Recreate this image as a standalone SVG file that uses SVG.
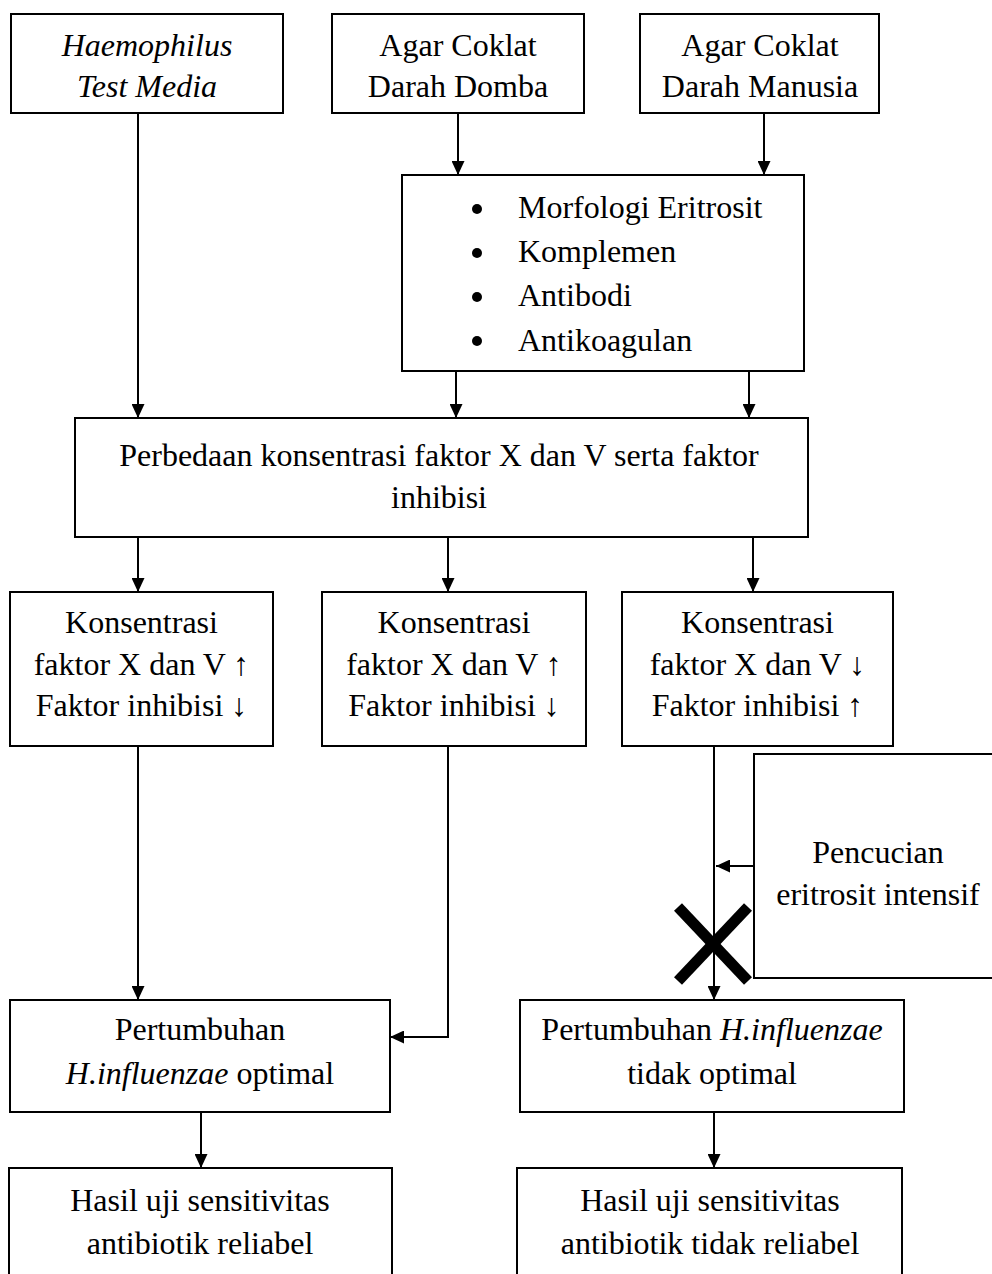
<svg xmlns="http://www.w3.org/2000/svg" width="992" height="1274" viewBox="0 0 992 1274">
<style>
  .box { fill: #ffffff; stroke: #000000; stroke-width: 2; }
  .t { font-family: "Liberation Serif", "Times New Roman", serif; font-size: 32px; fill: #000000; text-anchor: middle; }
  .tl { font-family: "Liberation Serif", "Times New Roman", serif; font-size: 32px; fill: #000000; text-anchor: start; }
  .i { font-style: italic; }
  .ln { fill: none; stroke: #000000; stroke-width: 2; }
  .arr { fill: none; stroke: #000000; stroke-width: 2; marker-end: url(#ah); }
  .x { stroke: #000000; stroke-width: 11; stroke-linecap: butt; }
</style>
<defs>
  <marker id="ah" markerUnits="userSpaceOnUse" markerWidth="14" markerHeight="13" refX="14" refY="6.5" orient="auto">
    <path d="M0,0 L14,6.5 L0,13 z" fill="#000000"/>
  </marker>
</defs>
<rect width="992" height="1274" fill="#ffffff"/>

<g id="connectors">
  <path class="arr" d="M138,113 V418"/>
  <path class="arr" d="M458,113 V175"/>
  <path class="arr" d="M764,113 V175"/>
  <path class="arr" d="M456,371 V418"/>
  <path class="arr" d="M749,371 V418"/>
  <path class="arr" d="M138,537 V592"/>
  <path class="arr" d="M448,537 V592"/>
  <path class="arr" d="M753,537 V592"/>
  <path class="arr" d="M138,746 V1000"/>
  <path class="arr" d="M448,746 V1037 H390"/>
  <path class="arr" d="M714,746 V1000"/>
  <path class="arr" d="M754,866 H716"/>
  <path class="arr" d="M201,1112 V1168"/>
  <path class="arr" d="M714,1112 V1168"/>
  <g id="cross">
    <line class="x" x1="678" y1="907" x2="748" y2="981"/>
    <line class="x" x1="748" y1="907" x2="678" y2="981"/>
  </g>
</g>

<g id="n-htm">
  <rect class="box" x="11" y="14" width="272" height="99"/>
  <text class="t i" x="147" y="56">Haemophilus</text>
  <text class="t i" x="147" y="97">Test Media</text>
</g>
<g id="n-domba">
  <rect class="box" x="332" y="14" width="252" height="99"/>
  <text class="t" x="458" y="56">Agar Coklat</text>
  <text class="t" x="458" y="97">Darah Domba</text>
</g>
<g id="n-manusia">
  <rect class="box" x="640" y="14" width="239" height="99"/>
  <text class="t" x="760" y="56">Agar Coklat</text>
  <text class="t" x="760" y="97">Darah Manusia</text>
</g>
<g id="n-faktor">
  <rect class="box" x="402" y="175" width="402" height="196"/>
  <circle cx="477" cy="209" r="5"/>
  <circle cx="477" cy="253" r="5"/>
  <circle cx="477" cy="297" r="5"/>
  <circle cx="477" cy="341" r="5"/>
  <text class="tl" x="518" y="218">Morfologi Eritrosit</text>
  <text class="tl" x="518" y="262">Komplemen</text>
  <text class="tl" x="518" y="306">Antibodi</text>
  <text class="tl" x="518" y="351">Antikoagulan</text>
</g>
<g id="n-perbedaan">
  <rect class="box" x="75" y="418" width="733" height="119"/>
  <text class="t" x="439" y="466">Perbedaan konsentrasi faktor X dan V serta faktor</text>
  <text class="t" x="439" y="508">inhibisi</text>
</g>
<g id="n-k1">
  <rect class="box" x="10" y="592" width="263" height="154"/>
  <text class="t" x="141.5" y="633">Konsentrasi</text>
  <text class="t" x="141.5" y="675">faktor X dan V ↑</text>
  <text class="t" x="141.5" y="716">Faktor inhibisi ↓</text>
</g>
<g id="n-k2">
  <rect class="box" x="322" y="592" width="264" height="154"/>
  <text class="t" x="454" y="633">Konsentrasi</text>
  <text class="t" x="454" y="675">faktor X dan V ↑</text>
  <text class="t" x="454" y="716">Faktor inhibisi ↓</text>
</g>
<g id="n-k3">
  <rect class="box" x="622" y="592" width="271" height="154"/>
  <text class="t" x="757.5" y="633">Konsentrasi</text>
  <text class="t" x="757.5" y="675">faktor X dan V ↓</text>
  <text class="t" x="757.5" y="716">Faktor inhibisi ↑</text>
</g>
<g id="n-pencucian">
  <rect class="box" x="754" y="754" width="260" height="224"/>
  <text class="t" x="878" y="863">Pencucian</text>
  <text class="t" x="878" y="905">eritrosit intensif</text>
</g>
<g id="n-optimal">
  <rect class="box" x="10" y="1000" width="380" height="112"/>
  <text class="t" x="200" y="1040">Pertumbuhan</text>
  <text class="t" x="200" y="1084"><tspan class="i">H.influenzae</tspan> optimal</text>
</g>
<g id="n-tidakoptimal">
  <rect class="box" x="520" y="1000" width="384" height="112"/>
  <text class="t" x="712" y="1040">Pertumbuhan <tspan class="i">H.influenzae</tspan></text>
  <text class="t" x="712" y="1084">tidak optimal</text>
</g>
<g id="n-reliabel">
  <rect class="box" x="9" y="1168" width="383" height="130"/>
  <text class="t" x="200" y="1211">Hasil uji sensitivitas</text>
  <text class="t" x="200" y="1254">antibiotik reliabel</text>
</g>
<g id="n-tidakreliabel">
  <rect class="box" x="517" y="1168" width="385" height="130"/>
  <text class="t" x="710" y="1211">Hasil uji sensitivitas</text>
  <text class="t" x="710" y="1254">antibiotik tidak reliabel</text>
</g>
</svg>
